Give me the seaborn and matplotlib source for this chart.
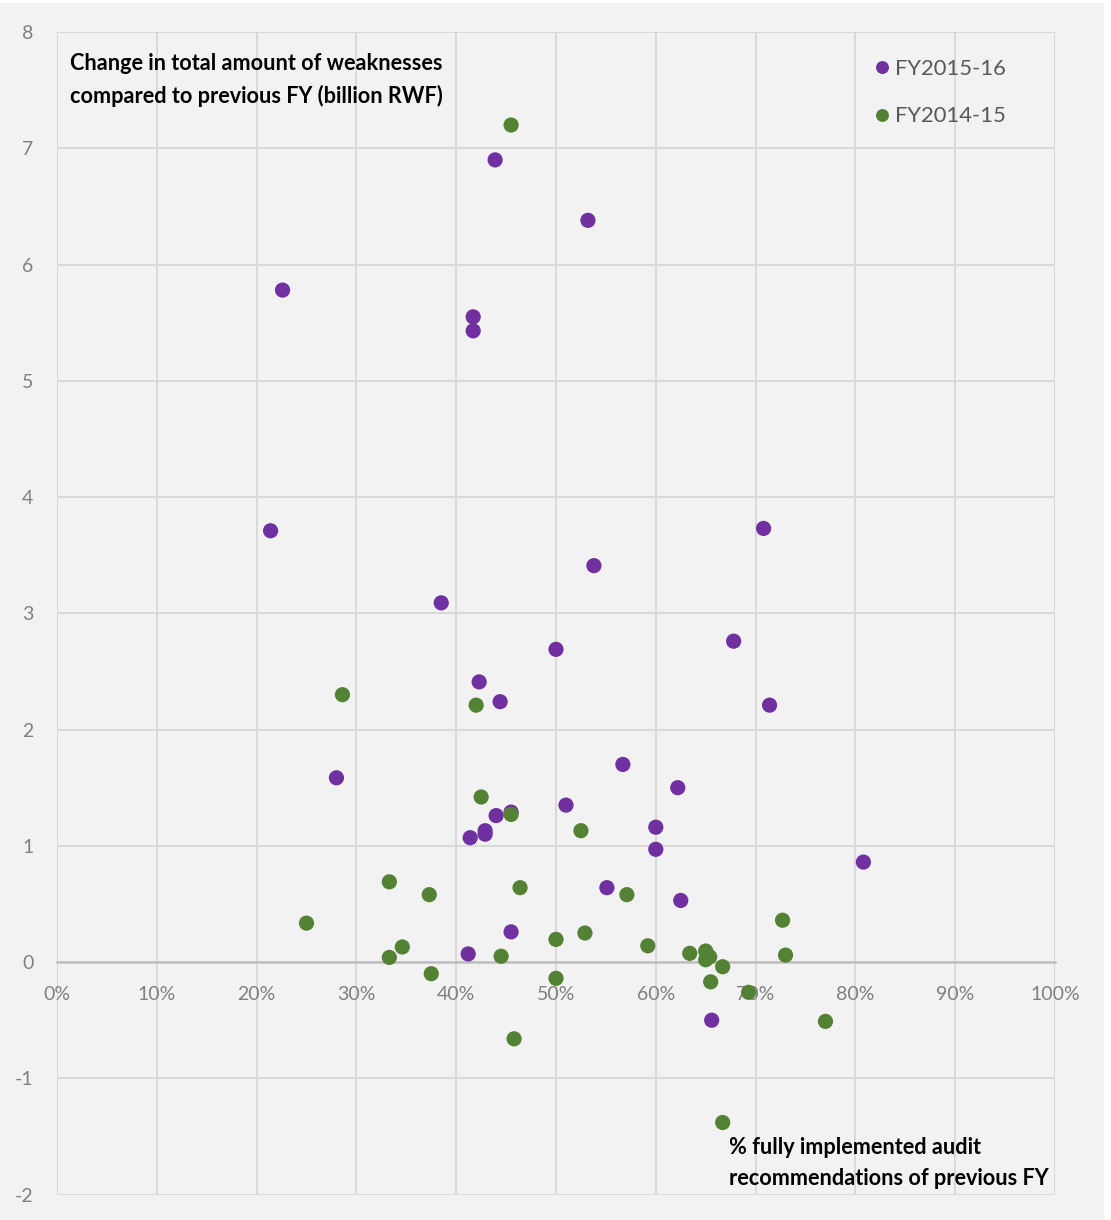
import matplotlib
matplotlib.use("Agg")
import matplotlib.pyplot as plt
from matplotlib.patches import Rectangle
from matplotlib.ticker import PercentFormatter
import seaborn as sns
import pandas as pd

# FY2015-16: % fully implemented recommendations vs change in weaknesses (billion RWF)
fy1516_pct = [43.9, 53.2, 22.6, 41.7, 41.7, 21.4, 70.8, 53.8, 38.5, 67.8,
              50.0, 42.3, 44.4, 71.4, 28.0, 56.7, 62.2, 51.0, 45.5, 44.0,
              42.9, 42.9, 41.4, 60.0, 60.0, 80.8, 55.1, 62.5, 45.5, 41.2,
              65.6]
fy1516_change = [6.90, 6.38, 5.78, 5.55, 5.43, 3.71, 3.73, 3.41, 3.09, 2.76,
                 2.69, 2.41, 2.24, 2.21, 1.585, 1.70, 1.50, 1.35, 1.29, 1.26,
                 1.13, 1.10, 1.07, 1.16, 0.97, 0.86, 0.64, 0.53, 0.26, 0.07,
                 -0.50]

# FY2014-15
fy1415_pct = [45.5, 28.6, 42.0, 42.5, 45.5, 52.5, 33.3, 37.3, 46.4, 57.1,
              25.0, 50.0, 52.9, 59.2, 34.6, 33.3, 44.5, 37.5, 50.0, 45.8,
              63.4, 65.0, 65.4, 65.0, 66.7, 65.5, 69.3, 72.7, 73.0, 77.0,
              66.7]
fy1415_change = [7.20, 2.30, 2.21, 1.42, 1.27, 1.13, 0.69, 0.58, 0.64, 0.58,
                 0.335, 0.195, 0.25, 0.14, 0.13, 0.04, 0.05, -0.10, -0.14, -0.66,
                 0.075, 0.095, 0.045, 0.02, -0.04, -0.17, -0.26, 0.36, 0.06, -0.51,
                 -1.38]

series_names = ["FY2015-16", "FY2014-15"]
series_colors = ["#7030A0", "#548235"]

x_ticks = list(range(0, 101, 10))
y_ticks = list(range(-2, 9))

df = pd.concat([
    pd.DataFrame({"pct": fy1516_pct, "change": fy1516_change, "year": series_names[0]}),
    pd.DataFrame({"pct": fy1415_pct, "change": fy1415_change, "year": series_names[1]}),
])

sns.set_style("white")
plt.rcParams["font.family"] = ["Lato", "DejaVu Sans"]
plt.rcParams["axes.unicode_minus"] = False

bg = "#f2f2f2"
fig = plt.figure(figsize=(11.11, 12.2), dpi=100, facecolor="white")
fig.patches.append(Rectangle((0, 0), 1104 / 1111, 1217 / 1220,
                             transform=fig.transFigure, facecolor=bg,
                             edgecolor="none", zorder=-10))
ax = fig.add_axes([57 / 1111, 1 - 1194.6 / 1220, 998 / 1111, (1194.6 - 32) / 1220])
ax.set_facecolor(bg)

sns.scatterplot(data=df, x="pct", y="change", hue="year",
                hue_order=series_names, palette=series_colors,
                s=120, edgecolor="none", linewidth=0, ax=ax, zorder=3,
                clip_on=False)

ax.set_xlim(0, 100)
ax.set_ylim(-2, 8)
ax.set_xticks(x_ticks)
ax.set_yticks(y_ticks)
ax.xaxis.set_major_formatter(PercentFormatter(decimals=0))
ax.grid(True, color="#d9d9d9", linewidth=1.4, zorder=0)
ax.set_axisbelow(True)
for side in ["left", "right", "top"]:
    ax.spines[side].set_visible(False)
ax.spines["bottom"].set_position(("data", 0))
ax.spines["bottom"].set_color("#bfbfbf")
ax.spines["bottom"].set_linewidth(1.8)
ax.spines["bottom"].set_zorder(1)
ax.tick_params(axis="x", length=0, pad=17, labelsize=14, labelcolor="#808080")
ax.tick_params(axis="y", length=0, pad=17, labelsize=14, labelcolor="#808080")
ax.set_xlabel("")
ax.set_ylabel("")

ax.text(70 / 1111, 1 - 53 / 1220,
        "Change in total amount of weaknesses\ncompared to previous FY (billion RWF)",
        transform=fig.transFigure, ha="left", va="top", fontsize=15.6,
        fontweight="bold", color="black", linespacing=1.6)
ax.text(729 / 1111, 1 - 1137 / 1220,
        "% fully implemented audit\nrecommendations of previous FY",
        transform=fig.transFigure, ha="left", va="top", fontsize=15.6,
        fontweight="bold", color="black", linespacing=1.6)

leg = ax.legend(loc="upper right", bbox_to_anchor=(1015 / 1111, 1 - 50 / 1220),
                bbox_transform=fig.transFigure, frameon=False, fontsize=15.8,
                handletextpad=0.3, labelspacing=1.25, markerscale=0.85,
                borderaxespad=0, handlelength=0.6)
for t in leg.get_texts():
    t.set_color("#595959")

fig.savefig("out.png", dpi=100, facecolor="white")
